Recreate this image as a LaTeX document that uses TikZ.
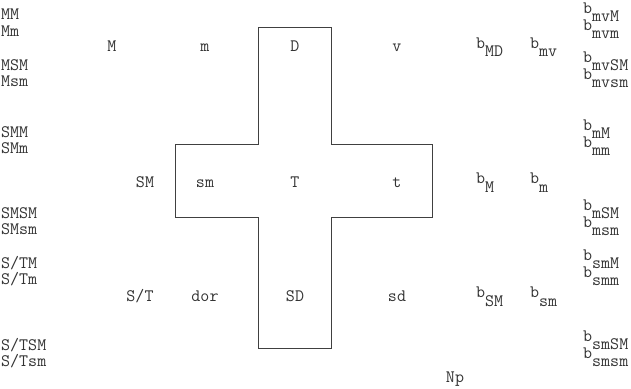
\documentclass[tikz,border=0pt]{standalone}
\usepackage{tikz}
\newcommand{\bsb}[1]{b\raisebox{-8.5pt}{#1}}

\begin{document}
\begin{tikzpicture}[x=1pt,y=-1pt,
		lab/.style={inner sep=0pt,anchor=base west,text=black!80,font=\ttfamily\fontsize{17.5}{19}\selectfont},
		mid/.style={lab,anchor=base}]
			\useasboundingbox (0,0) rectangle (631,388);
			\draw[line width=.8pt,black!75] (258,27) -- (331,27) -- (331,144) -- (432,144) -- (432,217) -- (331,217) -- (331,348) -- (258,348) -- (258,217) -- (175,217) -- (175,144) -- (258,144) -- cycle;
			\node[lab] (MM) at (1,19.5) {MM};
			\node[lab] (Mm) at (1,36.5) {Mm};
			\node[lab] (MSM) at (1,70.5) {MSM};
			\node[lab] (Msm) at (1,86.5) {Msm};
			\node[lab] (SMM) at (1,137.5) {SMM};
			\node[lab] (SMm) at (1,153.5) {SMm};
			\node[lab] (SMSM) at (1,218.5) {SMSM};
			\node[lab] (SMsm) at (1,234.5) {SMsm};
			\node[lab] (STM) at (1,268.5) {S/TM};
			\node[lab] (STm) at (1,284.5) {S/Tm};
			\node[lab] (STSM) at (1,350.5) {S/TSM};
			\node[lab] (STsm) at (1,366.5) {S/Tsm};
			\node[mid] (M) at (112,51.5) {M};
			\node[mid] (m) at (205,51.5) {m};
			\node[mid] (D) at (295,51.5) {D};
			\node[mid] (v) at (397,51.5) {v};
			\node[mid] (SM) at (145,187.5) {SM};
			\node[mid] (sm) at (205,187.5) {sm};
			\node[mid] (T) at (295,187.5) {T};
			\node[mid] (t) at (397,187.5) {t};
			\node[mid] (ST) at (140,301.5) {S/T};
			\node[mid] (dor) at (205,301.5) {dor};
			\node[mid] (SD) at (295,301.5) {SD};
			\node[mid] (sd) at (397,301.5) {sd};
			\node[mid] (Np) at (455,382) {Np};
			\node[lab] (bMD) at (476,48) {\bsb{MD}};
			\node[lab] (bmv) at (530,48) {\bsb{mv}};
			\node[lab] (bM) at (476,183.5) {\bsb{M}};
			\node[lab] (bm) at (530,183.5) {\bsb{m}};
			\node[lab] (bSM) at (476,297.5) {\bsb{SM}};
			\node[lab] (bsm) at (530,297.5) {\bsb{sm}};
			\node[lab] (bmvM) at (583,13) {\bsb{mvM}};
			\node[lab] (bmvm) at (583,30) {\bsb{mvm}};
			\node[lab] (bmvSM) at (583,62) {\bsb{mvSM}};
			\node[lab] (bmvsm) at (583,79) {\bsb{mvsm}};
			\node[lab] (bmM) at (583,130) {\bsb{mM}};
			\node[lab] (bmm) at (583,147) {\bsb{mm}};
			\node[lab] (bmSM) at (583,210) {\bsb{mSM}};
			\node[lab] (bmsm) at (583,227) {\bsb{msm}};
			\node[lab] (bsmM) at (583,260) {\bsb{smM}};
			\node[lab] (bsmm) at (583,277) {\bsb{smm}};
			\node[lab] (bsmSM) at (583,341) {\bsb{smSM}};
			\node[lab] (bsmsm) at (583,358) {\bsb{smsm}};
			\end{tikzpicture}
\end{document}
